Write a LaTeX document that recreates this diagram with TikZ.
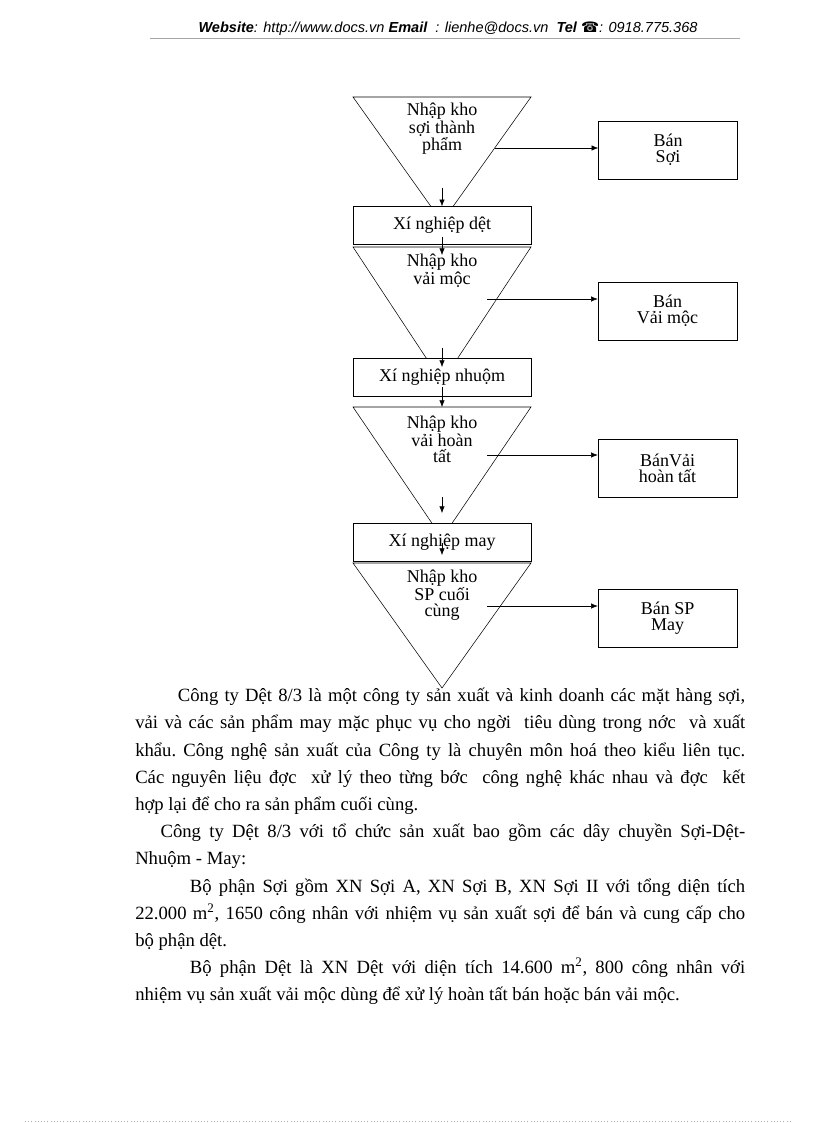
\documentclass[tikz,border=0pt]{standalone}
\usepackage{fontspec}
\usetikzlibrary{arrows.meta}
\setmainfont{Liberation Serif}
\newfontfamily\hdrfont{Liberation Sans}
\newfontfamily\symfont{DejaVu Sans}
\begin{document}
\begin{tikzpicture}[>={Latex[length=5pt,width=4pt]}, x=0.75pt, y=-0.75pt,
    kho/.style={align=center, font=\fontsize{13.5}{12}\selectfont},
    xnbox/.style={draw, fill=white, minimum width=133.5pt, minimum height=28.5pt,
        inner sep=0pt, font=\fontsize{13.5}{16}\selectfont},
    banbox/.style={draw, minimum width=104.25pt, minimum height=43.5pt,
        inner sep=0pt, align=center, font=\fontsize{13.5}{12}\selectfont}]
\useasboundingbox (0,0) rectangle (816,1123);
% header
\node (hdr) at (448,29) {\hdrfont\fontsize{10.9}{12}\selectfont\itshape
    \textbf{Website}: http://www.docs.vn \textbf{Email}\ \ : lienhe@docs.vn\ \ \textbf{Tel} {\symfont\bfseries ☎}: 0918.775.368};
\draw[gray!70] (150,38)--(740,38);
\draw[gray!60, dotted] (25,1121)--(792,1121);
% triangles (kho)
\draw (353,97)--(531,97)--(442,222)--cycle;
\draw (353,247)--(531,247)--(442,382)--cycle;
\draw (353,407)--(531,407)--(442,538)--cycle;
\draw (353,563)--(531,563)--(442,688)--cycle;
\node[kho] (khoSoi) at (442,129) {Nhập kho\\sợi thành\\phẩm};
\node[kho] (khoMoc) at (442,271) {Nhập kho\\vải mộc};
\node[kho] (khoHT) at (442,439) {Nhập kho\\vải hoàn\\tất};
\node[kho] (khoSP) at (442,595) {Nhập kho\\SP cuối\\cùng};
% xi nghiep
\node[xnbox] (xnDet) at (442,225.5) {Xí nghiệp dệt};
\node[xnbox] (xnNhuom) at (442,377.5) {Xí nghiệp nhuộm};
\node[xnbox] (xnMay) at (442,542.5) {Xí nghiệp may};
% ban
\node[banbox] (banSoi) at (668,150) {Bán\\Sợi};
\node[banbox] (banMoc) at (667.5,311) {Bán\\Vải mộc};
\node[banbox] (banHT) at (667.5,468) {BánVải\\hoàn tất};
\node[banbox] (banSP) at (667.5,618) {Bán SP\\May};
\coordinate (r1) at (495,148);
\coordinate (r2) at (487,299);
\coordinate (r3) at (487,455);
\coordinate (r4) at (487,606);
\draw[->] (r1)--(r1 -| banSoi.west);
\draw[->] (r2)--(r2 -| banMoc.west);
\draw[->] (r3)--(r3 -| banHT.west);
\draw[->] (r4)--(r4 -| banSP.west);
% down arrows
\coordinate (d1) at (442,188);
\coordinate (d2) at (442,237);
\coordinate (d2e) at (442,255);
\coordinate (d3) at (442,348);
\coordinate (d3e) at (442,367);
\coordinate (d4) at (442,387);
\coordinate (d4e) at (442,407);
\coordinate (d5) at (442,497);
\coordinate (d5e) at (442,513);
\coordinate (d6) at (442,543);
\coordinate (d6e) at (442,555);
\draw[->] (d1)--(xnDet.north);
\draw[->] (d2)--(d2e);
\draw[->] (d3)--(d3e);
\draw[->] (d4)--(d4e);
\draw[->] (d5)--(d5e);
\draw[->] (d6)--(d6e);
% body text
\node[anchor=north west, inner sep=0pt, text width=457.5pt, align=justify,
    font=\fontsize{14}{20.4}\selectfont] (body) at (135,688) {%
\tolerance=10000\parindent=0pt\parskip=0pt\frenchspacing
\hspace*{32pt}Công ty Dệt 8/3 là một công ty sản xuất và kinh doanh các mặt hàng sợi,\linebreak
vải và các sản phẩm may mặc phục vụ cho ngời\ \ tiêu dùng trong nớc\ \ và xuất\linebreak
khẩu. Công nghệ sản xuất của Công ty là chuyên môn hoá theo kiểu liên tục.\linebreak
Các nguyên liệu đợc\ \ xử lý theo từng bớc\ \ công nghệ khác nhau và đợc\ \ kết\linebreak
hợp lại để cho ra sản phẩm cuối cùng.\par
\hspace*{19pt}Công ty Dệt 8/3 với tổ chức sản xuất bao gồm các dây chuyền Sợi-Dệt-\linebreak
Nhuộm - May:\par
\hspace*{41pt}Bộ phận Sợi gồm XN Sợi A, XN Sợi B, XN Sợi II với tổng diện tích\linebreak
22.000 m\textsuperscript{2}, 1650 công nhân với nhiệm vụ sản xuất sợi để bán và cung cấp cho\linebreak
bộ phận dệt.\par
\hspace*{41pt}Bộ phận Dệt là XN Dệt với diện tích 14.600 m\textsuperscript{2}, 800 công nhân với\linebreak
nhiệm vụ sản xuất vải mộc dùng để xử lý hoàn tất bán hoặc bán vải mộc.\par};
\end{tikzpicture}
\end{document}
